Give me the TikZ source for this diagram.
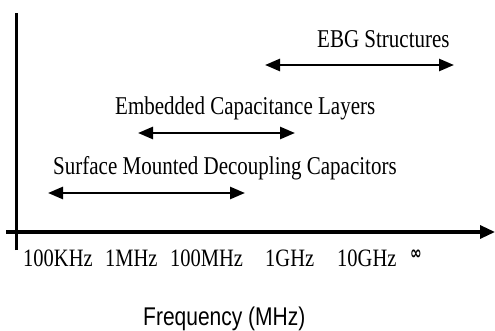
\documentclass[tikz,border=0pt]{standalone}
\usepackage{fontspec}
\usepackage{graphicx}
\setmainfont{Liberation Serif}
\newfontfamily\arialf{Liberation Sans}
\newfontfamily\djv{DejaVu Sans}
\usetikzlibrary{arrows.meta}
\newcommand{\vst}[1]{\scalebox{1}[1.22]{#1}}
\tikzset{
  axisline/.style={line width=3.2pt},
  rangearrow/.style={line width=2.6pt,{Triangle[length=15pt,width=12pt]}-{Triangle[length=15pt,width=12pt]}},
  lbl/.style={inner sep=0pt,anchor=base west,font=\fontsize{21}{24}\selectfont},
  ticklbl/.style={inner sep=0pt,anchor=base west,font=\fontsize{20.5}{24}\selectfont},
}
\begin{document}
\begin{tikzpicture}[x=1pt,y=-1pt]
\useasboundingbox (0,0) rectangle (495,331);
% axes
\coordinate (yb) at (16.7,250);
\coordinate (yt) at (16.7,13);
\coordinate (xl) at (6,232);
\coordinate (xr) at (495,232);
\draw[axisline] (yb) -- (yt);
\draw[axisline,-{Triangle[length=15pt,width=13pt]}] (xl) -- (xr);
% tick labels
\node[ticklbl] (t1) at (23,266.5) {\vst{100KHz}};
\node[ticklbl] (t2) at (105,266.5) {\vst{1MHz}};
\node[ticklbl] (t3) at (170,266.5) {\vst{100MHz}};
\node[ticklbl] (t4) at (265,266.5) {\vst{1GHz}};
\node[ticklbl] (t5) at (337,266.5) {\vst{10GHz}};
\node[inner sep=0pt,font=\djv\bfseries\fontsize{14}{16}\selectfont] (t6) at (416,255) {\scalebox{1}[1.35]{∞}};
% ranges
\coordinate (s1) at (48,193);
\coordinate (s2) at (245,193);
\draw[rangearrow] (s1) -- (s2);
\node[lbl] (sl) at (53,175) {\vst{Surface Mounted Decoupling Capacitors}};
\coordinate (e1) at (138,133);
\coordinate (e2) at (295,133);
\draw[rangearrow] (e1) -- (e2);
\node[lbl] (el) at (115,115) {\vst{Embedded Capacitance Layers}};
\coordinate (g1) at (265,65);
\coordinate (g2) at (454,65);
\draw[rangearrow] (g1) -- (g2);
\node[lbl] (gl) at (317,47.3) {\vst{EBG Structures}};
\node[inner sep=0pt,anchor=base west,font=\arialf\fontsize{21}{24}\selectfont] (fl) at (143,325) {\vst{Frequency (MHz)}};
\end{tikzpicture}
\end{document}
